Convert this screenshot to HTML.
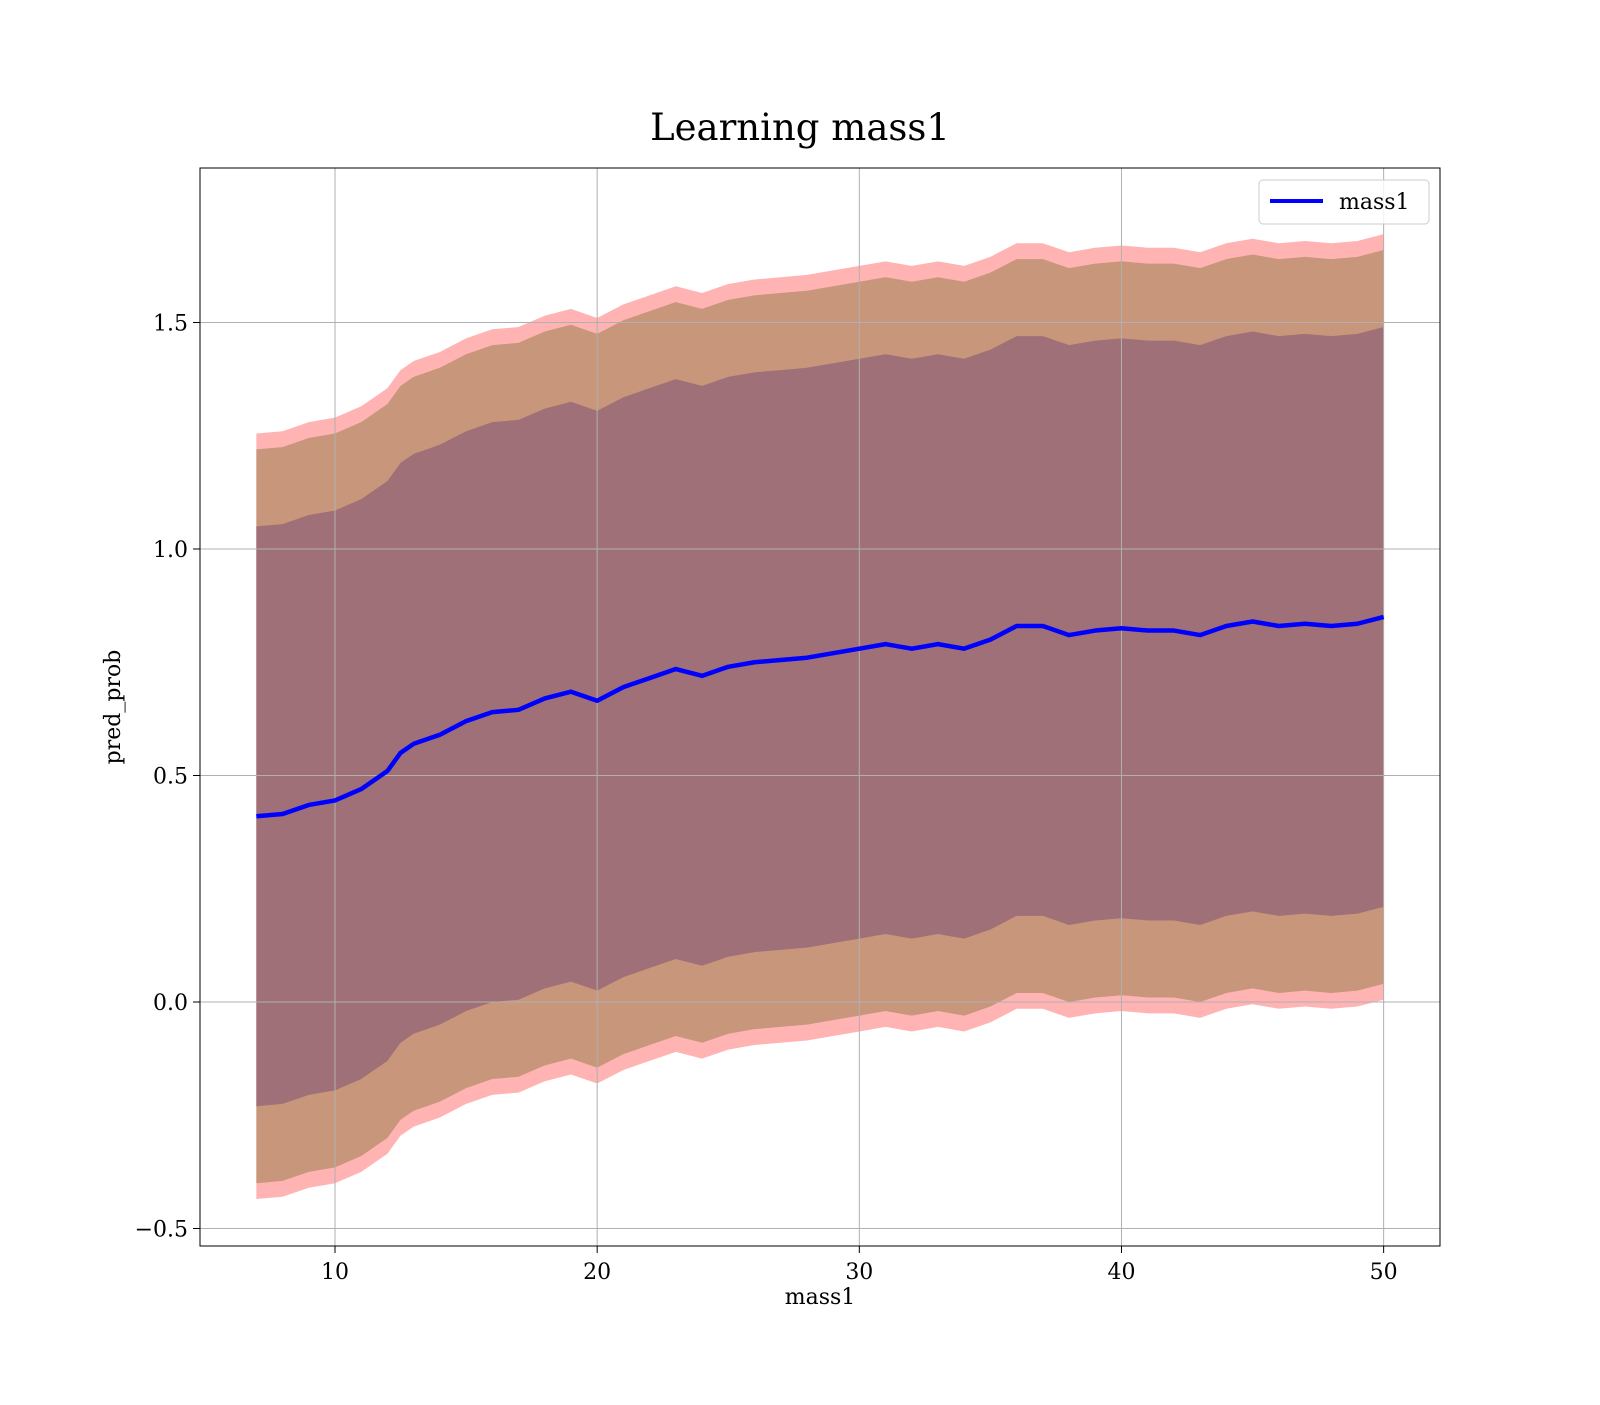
<!DOCTYPE html>
<html><head><meta charset="utf-8"><style>
body{margin:0;background:#fff}
svg text{font-family:"DejaVu Serif","Liberation Serif",serif;fill:#000}
</style></head><body>
<svg id="chart" width="1600" height="1400" xmlns="http://www.w3.org/2000/svg">
<rect width="1600" height="1400" fill="#fff"/>
<text x="800" y="140" font-size="37" text-anchor="middle">Learning mass1</text>
<g id="plot"></g>
<text x="820" y="1304" font-size="22" text-anchor="middle">mass1</text>
<text transform="translate(120,707) rotate(-90)" font-size="22" text-anchor="middle">pred_prob</text>
<g>
<rect x="1259" y="180" width="170" height="44" rx="4" fill="#fff" fill-opacity="0.8" stroke="#ccc"/>
<line x1="1270" y1="201" x2="1323" y2="201" stroke="#0000ff" stroke-width="4"/>
<text x="1339" y="209" font-size="22">mass1</text>
</g>
</svg>
<script>
const xs=[7,8,9,10,11,12,12.5,13,14,15,16,17,18,19,20,21,22,23,24,25,26,27,28,29,30,31,32,33,34,35,36,37,38,39,40,41,42,43,44,45,46,47,48,49,50];
const meanVals=[0.41,0.415,0.435,0.445,0.47,0.51,0.55,0.57,0.59,0.62,0.64,0.645,0.67,0.685,0.665,0.695,0.715,0.735,0.72,0.74,0.75,0.755,0.76,0.77,0.78,0.79,0.78,0.79,0.78,0.80,0.83,0.83,0.81,0.82,0.825,0.82,0.82,0.81,0.83,0.84,0.83,0.835,0.83,0.835,0.85];
const innerHalf=0.64, midHalf=0.81, outerHalf=0.845;
const xTicks=[10,20,30,40,50];
const yTicks=[-0.5,0,0.5,1.0,1.5];
const yTickLabels=["\u22120.5","0.0","0.5","1.0","1.5"];
const L=200,R=1440,T=168,B=1246;
const xMin=4.85,xMax=52.15;
const X=v=>L+(v-xMin)/(xMax-xMin)*(R-L);
const Y=v=>1002-v*453;
const g=document.getElementById('plot');
const NS='http://www.w3.org/2000/svg';
function mk(t,a){const e=document.createElementNS(NS,t);for(const k in a)e.setAttribute(k,a[k]);g.appendChild(e);return e;}
function band(h,color,name){
  let up=xs.map((x,i)=>X(x)+','+Y(meanVals[i]+h));
  let lo=xs.map((x,i)=>X(x)+','+Y(meanVals[i]-h)).reverse();
  const p=mk('polygon',{points:up.concat(lo).join(' '),fill:color});
  
  
}
band(outerHalf,'#ffb3b3','band-outer');
band(midHalf,'#c8967a','band-middle');
band(innerHalf,'#a07078','band-inner');
xTicks.forEach(t=>{
  const l=mk('line',{x1:X(t),x2:X(t),y1:T,y2:B,stroke:'#b0b0b0','stroke-width':1});
  
  mk('line',{x1:X(t),x2:X(t),y1:B,y2:B+7,stroke:'#000'});
  const tx=mk('text',{x:X(t),y:B+33,'font-size':22,'text-anchor':'middle'});tx.textContent=t;
  
});
yTicks.forEach((t,i)=>{
  const l=mk('line',{x1:L,x2:R,y1:Y(t),y2:Y(t),stroke:'#b0b0b0','stroke-width':1});
  
  mk('line',{x1:L-7,x2:L,y1:Y(t),y2:Y(t),stroke:'#000'});
  const tx=mk('text',{x:L-12,y:Y(t)+8,'font-size':22,'text-anchor':'end'});tx.textContent=yTickLabels[i];
  
});
const ln=mk('polyline',{points:xs.map((x,i)=>X(x)+','+Y(meanVals[i])).join(' '),fill:'none',stroke:'#0000ff','stroke-width':4.5,'stroke-linejoin':'round'});

const fr=mk('rect',{x:L,y:T,width:R-L,height:B-T,fill:'none',stroke:'#000','stroke-width':1});

</script>
</body></html>
